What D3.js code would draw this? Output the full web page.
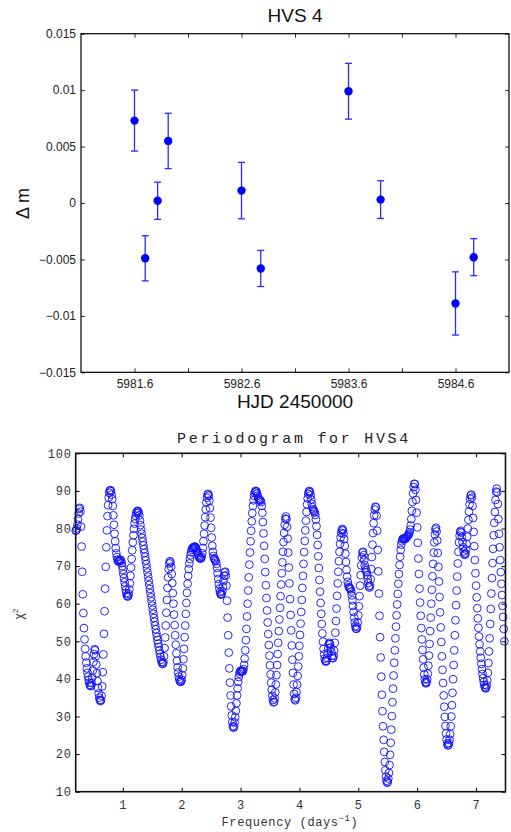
<!DOCTYPE html>
<html>
<head>
<meta charset="utf-8">
<script src="https://cdn.jsdelivr.net/npm/d3@7/dist/d3.min.js"></script>
<style>
body { margin: 0; background: #fff; }
</style>
</head>
<body>
<script>
// ---- light curve (top panel) ----
var hjd = [5981.60, 5981.70, 5981.816, 5981.915, 5982.60, 5982.78, 5983.60, 5983.90, 5984.60, 5984.77];
var dmag = [0.0073, -0.0049, 0.0002, 0.0055, 0.0011, -0.0058, 0.0099, 0.0003, -0.0089, -0.0048];
var dmagErr = [0.0027, 0.0020, 0.00165, 0.00245, 0.0025, 0.0016, 0.00247, 0.00167, 0.0028, 0.00164];
var hjdTicks = [5981.6, 5982.1, 5982.6, 5983.1, 5983.6, 5984.1, 5984.6];
var hjdLabels = ["5981.6", "", "5982.6", "", "5983.6", "", "5984.6"];
var dmagTicks = [-0.015, -0.01, -0.005, 0, 0.005, 0.01, 0.015];
var dmagLabels = ["\u22120.015", "\u22120.01", "\u22120.005", "0", "0.005", "0.01", "0.015"];

// ---- periodogram (bottom panel) ----
var freqStart = 0.20, freqStep = 0.01;
var chi2 = [
  79.4, 79.5, 80.0, 81.0, 82.5, 84.0, 85.2, 85.5, 84.5, 80.5,
  75.2, 68.5, 62.5, 57.5, 53.5, 50.5, 48.0, 46.0, 44.3, 42.8,
  41.6, 40.6, 39.7, 39.0, 38.4, 38.1, 38.2, 38.9, 40.3, 42.2,
  44.5, 46.6, 47.9, 47.6, 46.0, 43.8, 41.5, 39.4, 37.6, 36.1,
  35.0, 34.4, 34.1, 34.3, 35.5, 38.0, 41.8, 46.5, 52.0, 58.0,
  64.0, 69.8, 75.0, 79.5, 83.3, 86.2, 88.2, 89.5, 90.1, 90.2,
  89.9, 89.0, 87.8, 86.0, 83.5, 81.0, 78.6, 76.6, 74.8, 73.4,
  72.4, 71.7, 71.3, 71.2, 71.3, 71.6, 71.7, 71.4, 70.8, 70.0,
  69.0, 67.9, 66.8, 65.7, 64.6, 63.6, 62.8, 62.2, 61.9, 62.0,
  62.6, 63.8, 65.4, 67.4, 69.6, 71.9, 74.2, 76.3, 78.2, 79.9,
  81.3, 82.5, 83.4, 84.1, 84.5, 84.7, 84.6, 84.2, 83.5, 82.2,
  80.9, 79.7, 78.6, 77.5, 76.5, 75.5, 74.5, 73.5, 72.5, 71.5,
  70.5, 69.4, 68.3, 67.2, 66.1, 65.0, 63.9, 62.8, 61.7, 60.6,
  59.5, 58.4, 57.3, 56.2, 55.2, 54.2, 53.2, 52.2, 51.2, 50.3,
  49.4, 48.5, 47.6, 46.7, 45.9, 45.1, 44.5, 44.1, 44.0, 44.4,
  46.0, 48.2, 51.0, 54.2, 57.6, 61.0, 64.2, 67.0, 69.2, 70.7,
  71.3, 71.0, 69.8, 67.9, 65.5, 62.8, 60.0, 57.1, 54.3, 51.6,
  49.1, 46.8, 44.8, 43.1, 41.7, 40.6, 39.9, 39.4, 39.2, 39.3,
  39.8, 41.0, 42.8, 45.2, 48.0, 51.1, 54.2, 57.3, 60.2, 62.9,
  65.3, 67.4, 69.2, 70.7, 71.9, 72.9, 73.7, 74.3, 74.7, 74.9,
  74.9, 75.1, 75.2, 75.1, 74.9, 74.5, 74.0, 73.5, 73.0, 72.6,
  72.3, 72.1, 72.0, 72.1, 72.5, 73.4, 74.8, 76.6, 78.6, 80.8,
  83.0, 85.1, 86.9, 88.2, 89.0, 89.2, 88.7, 87.4, 85.4, 82.9,
  80.2, 77.6, 75.4, 73.8, 72.7, 72.1, 71.8, 71.6, 71.3, 70.6,
  69.5, 68.1, 66.6, 65.2, 64.0, 63.1, 62.6, 62.4, 62.6, 63.3,
  64.5, 66.0, 67.4, 68.3, 68.5, 67.5, 64.8, 60.8, 56.3, 51.6,
  47.0, 42.8, 39.0, 35.6, 32.7, 30.3, 28.5, 27.4, 27.0, 27.3,
  28.4, 29.8, 31.5, 33.5, 35.6, 37.5, 39.2, 40.5, 41.4, 41.9,
  42.1, 42.2, 42.1, 42.0, 42.1, 42.6, 43.7, 45.4, 47.6, 50.3,
  53.3, 56.6, 60.0, 63.5, 67.0, 70.4, 73.6, 76.6, 79.4, 81.9,
  84.1, 86.0, 87.5, 88.7, 89.5, 89.9, 90.0, 89.8, 89.3, 88.7,
  88.2, 87.8, 87.6, 87.5, 87.4, 87.0, 86.0, 84.2, 81.7, 78.7,
  75.4, 71.9, 68.4, 64.9, 61.5, 58.2, 55.0, 51.9, 49.0, 46.2,
  43.6, 41.2, 39.0, 37.1, 35.5, 34.4, 33.8, 33.9, 34.8, 36.4,
  38.5, 41.0, 43.7, 46.6, 49.6, 52.7, 55.8, 58.9, 62.0, 65.1,
  68.1, 71.0, 73.8, 76.4, 78.8, 81.0, 82.6, 83.2, 82.5, 80.4,
  77.3, 73.6, 69.6, 65.4, 61.2, 57.0, 52.9, 48.9, 45.1, 41.6,
  38.5, 36.0, 34.6, 34.3, 35.0, 36.5, 38.5, 40.8, 43.3, 46.0,
  48.8, 51.7, 54.7, 57.8, 61.0, 64.2, 67.4, 70.6, 73.7, 76.7,
  79.5, 82.1, 84.4, 86.4, 88.0, 89.2, 89.8, 90.0, 89.6, 88.8,
  87.7, 86.6, 85.7, 85.1, 84.8, 84.6, 84.3, 83.6, 82.4, 80.6,
  78.3, 75.6, 72.6, 69.5, 66.3, 63.2, 60.2, 57.3, 54.6, 52.1,
  49.9, 48.0, 46.5, 45.4, 44.8, 44.6, 44.8, 45.6, 46.8, 48.2,
  49.3, 49.6, 49.2, 48.3, 47.2, 46.2, 45.6, 45.5, 46.1, 47.5,
  49.6, 52.3, 55.4, 58.7, 62.1, 65.4, 68.5, 71.3, 73.8, 75.9,
  77.6, 78.8, 79.6, 79.9, 79.5, 78.6, 77.2, 75.4, 73.3, 71.1,
  69.0, 67.2, 65.8, 64.9, 64.4, 64.2, 64.1, 63.8, 63.2, 62.2,
  60.9, 59.4, 57.8, 56.3, 55.0, 54.0, 53.4, 53.3, 53.8, 55.0,
  56.9, 59.3, 62.0, 64.8, 67.6, 70.2, 72.3, 73.6, 73.8, 72.9,
  71.5, 70.2, 69.4, 68.9, 68.4, 67.6, 66.6, 65.5, 64.6, 64.3,
  64.8, 66.5, 69.2, 72.4, 75.7, 78.8, 81.4, 83.5, 85.0, 85.8,
  85.6, 83.4, 79.4, 74.3, 68.6, 62.7, 56.8, 51.1, 45.7, 40.6,
  35.8, 31.4, 27.4, 23.8, 20.6, 17.9, 15.7, 14.0, 12.9, 12.4,
  12.6, 13.5, 15.0, 17.1, 19.8, 23.0, 26.5, 30.1, 33.8, 37.4,
  40.9, 44.3, 47.6, 50.8, 53.9, 56.9, 59.8, 62.6, 65.3, 67.9,
  70.3, 72.5, 74.3, 75.7, 76.6, 77.1, 77.3, 77.3, 77.2, 77.2,
  77.3, 77.5, 77.7, 77.9, 78.1, 78.3, 78.6, 79.0, 79.7, 80.8,
  82.5, 84.7, 87.1, 89.3, 91.0, 91.9, 91.8, 90.3, 87.6, 84.2,
  80.3, 76.2, 72.0, 67.9, 64.0, 60.3, 56.8, 53.5, 50.5, 47.7,
  45.2, 43.0, 41.2, 39.9, 39.1, 38.8, 39.1, 39.9, 41.4, 43.5,
  46.2, 49.3, 52.7, 56.3, 60.0, 63.7, 67.3, 70.6, 73.6, 76.3,
  78.4, 79.8, 80.2, 79.2, 76.8, 73.5, 69.8, 65.9, 61.8, 57.7,
  53.7, 49.8, 46.0, 42.4, 38.9, 35.6, 32.6, 29.9, 27.5, 25.5,
  23.9, 22.8, 22.3, 22.4, 22.9, 23.8, 25.3, 27.4, 30.0, 33.0,
  36.3, 39.9, 43.7, 47.6, 51.6, 55.6, 59.6, 63.5, 67.2, 70.7,
  73.8, 76.3, 78.1, 79.1, 79.4, 78.9, 77.8, 76.4, 75.0, 73.9,
  73.2, 73.0, 73.4, 74.4, 75.9, 77.8, 80.0, 82.3, 84.5, 86.4,
  87.9, 88.8, 89.0, 88.2, 86.0, 82.8, 79.1, 75.3, 71.6, 68.1,
  64.8, 61.7, 58.8, 56.1, 53.6, 51.3, 49.2, 47.3, 45.6, 44.0,
  42.6, 41.3, 40.2, 39.2, 38.4, 37.8, 37.5, 37.6, 38.3, 39.6,
  41.6, 44.2, 47.3, 50.8, 54.6, 58.6, 62.7, 66.8, 70.8, 74.6,
  78.2, 81.5, 84.4, 87.6, 89.8, 90.6, 89.6, 86.5, 82.5, 78.6,
  75.0, 71.6, 68.4, 65.3, 62.3, 59.4, 56.5, 53.3, 50.0
];
var freqTicks = [1, 2, 3, 4, 5, 6, 7];
var chiTicks = [10, 20, 30, 40, 50, 60, 70, 80, 90, 100];

var w = 511, h = 832;
var svg = d3.select("body").append("svg")
    .attr("width", w)
    .attr("height", h)
    .style("background", "#fff");

var sans = "'Liberation Sans', Arial, Helvetica, sans-serif";
var mono = "'Liberation Mono', 'Courier New', Courier, monospace";

//---------------- top panel ----------------
var x1 = d3.scaleLinear().domain([5981.1, 5985.1]).range([81, 509]);
var y1 = d3.scaleLinear().domain([-0.015, 0.015]).range([372.3, 33.7]);

var upper = svg.append("g").attr("class", "lightcurve");

//inward ticks on all four sides
upper.append("g")
    .attr("transform", "translate(0," + y1.range()[0] + ")")
    .call(d3.axisBottom(x1).tickValues(hjdTicks).tickSize(-4).tickPadding(7)
        .tickFormat(function(d, i){ return hjdLabels[i]; }));
upper.append("g")
    .attr("transform", "translate(0," + y1.range()[1] + ")")
    .call(d3.axisTop(x1).tickValues(hjdTicks).tickSize(-4).tickFormat(""));
upper.append("g")
    .attr("transform", "translate(" + x1.range()[0] + ",0)")
    .call(d3.axisLeft(y1).tickValues(dmagTicks).tickSize(-4).tickPadding(5)
        .tickFormat(function(d, i){ return dmagLabels[i]; }));
upper.append("g")
    .attr("transform", "translate(" + x1.range()[1] + ",0)")
    .call(d3.axisRight(y1).tickValues(dmagTicks).tickSize(-4).tickFormat(""));

upper.selectAll(".domain").remove();
upper.selectAll(".tick line").attr("stroke", "#000").attr("stroke-width", 0.8);
upper.selectAll(".tick text").style("font-family", sans).style("font-size", "12px").attr("fill", "#222");

upper.append("rect")
    .attr("x", x1.range()[0]).attr("y", y1.range()[1])
    .attr("width", x1.range()[1] - x1.range()[0])
    .attr("height", y1.range()[0] - y1.range()[1])
    .attr("fill", "none").attr("stroke", "#000").attr("stroke-width", 1.2);

//error bars
var pts = hjd.map(function(d, i){ return {t: d, m: dmag[i], e: dmagErr[i]}; });
var bars = upper.selectAll(".ebar").data(pts).enter().append("g").attr("class", "ebar")
    .attr("stroke", "#2a2aff").attr("stroke-width", 1.3);
bars.append("line")
    .attr("x1", function(d){ return x1(d.t); })
    .attr("x2", function(d){ return x1(d.t); })
    .attr("y1", function(d){ return y1(d.m + d.e); })
    .attr("y2", function(d){ return y1(d.m - d.e); });
bars.append("line")
    .attr("x1", function(d){ return x1(d.t) - 3.5; })
    .attr("x2", function(d){ return x1(d.t) + 3.5; })
    .attr("y1", function(d){ return y1(d.m + d.e); })
    .attr("y2", function(d){ return y1(d.m + d.e); });
bars.append("line")
    .attr("x1", function(d){ return x1(d.t) - 3.5; })
    .attr("x2", function(d){ return x1(d.t) + 3.5; })
    .attr("y1", function(d){ return y1(d.m - d.e); })
    .attr("y2", function(d){ return y1(d.m - d.e); });

upper.selectAll(".dot").data(pts).enter().append("circle")
    .attr("class", "dot")
    .attr("cx", function(d){ return x1(d.t); })
    .attr("cy", function(d){ return y1(d.m); })
    .attr("r", 4.2)
    .attr("fill", "#0000ff");

upper.append("text")
    .attr("x", 295).attr("y", 21.5)
    .attr("text-anchor", "middle")
    .style("font-family", sans).style("font-size", "19px")
    .attr("fill", "#111")
    .text("HVS 4");

upper.append("text")
    .attr("x", 295).attr("y", 408)
    .attr("text-anchor", "middle")
    .style("font-family", sans).style("font-size", "19px")
    .attr("fill", "#111")
    .text("HJD 2450000");

upper.append("text")
    .attr("transform", "translate(28.5,203.5) rotate(-90)")
    .attr("text-anchor", "middle")
    .style("font-family", sans).style("font-size", "18px")
    .attr("fill", "#111")
    .text("\u0394 m");

//---------------- bottom panel ----------------
var x2 = d3.scaleLinear().domain([0.2, 7.5]).range([75.7, 505.5]);
var y2 = d3.scaleLinear().domain([10, 100]).range([791.7, 453.3]);

var lower = svg.append("g").attr("class", "periodogram");

lower.append("g")
    .attr("transform", "translate(0," + y2.range()[0] + ")")
    .call(d3.axisBottom(x2).tickValues(freqTicks).tickSize(-4).tickPadding(9).tickFormat(d3.format("d")));
lower.append("g")
    .attr("transform", "translate(0," + y2.range()[1] + ")")
    .call(d3.axisTop(x2).tickValues(freqTicks).tickSize(-4).tickFormat(""));
lower.append("g")
    .attr("transform", "translate(" + x2.range()[0] + ",0)")
    .call(d3.axisLeft(y2).tickValues(chiTicks).tickSize(-4).tickPadding(4).tickFormat(d3.format("d")));
lower.append("g")
    .attr("transform", "translate(" + x2.range()[1] + ",0)")
    .call(d3.axisRight(y2).tickValues(chiTicks).tickSize(-4).tickFormat(""));

lower.selectAll(".domain").remove();
lower.selectAll(".tick line").attr("stroke", "#000").attr("stroke-width", 1);
lower.selectAll(".tick text")
    .style("font-family", mono).style("font-size", "12px")
    .style("letter-spacing", "0.8px")
    .attr("fill", "#333");

var periodPts = chi2.map(function(v, i){ return {f: freqStart + i * freqStep, c: v}; });
lower.selectAll(".pt").data(periodPts).enter().append("circle")
    .attr("class", "pt")
    .attr("cx", function(d){ return x2(d.f); })
    .attr("cy", function(d){ return y2(d.c); })
    .attr("r", 3.9)
    .attr("fill", "none")
    .attr("stroke", "#1010ff")
    .attr("stroke-width", 0.9);

lower.append("rect")
    .attr("x", x2.range()[0]).attr("y", y2.range()[1])
    .attr("width", x2.range()[1] - x2.range()[0])
    .attr("height", y2.range()[0] - y2.range()[1])
    .attr("fill", "none").attr("stroke", "#111").attr("stroke-width", 1.6);

lower.append("text")
    .attr("x", 294).attr("y", 443)
    .attr("text-anchor", "middle")
    .style("font-family", mono).style("font-size", "15px")
    .style("letter-spacing", "2.7px")
    .attr("fill", "#222")
    .text("Periodogram for HVS4");

var xl = lower.append("text")
    .attr("x", 290).attr("y", 826)
    .attr("text-anchor", "middle")
    .style("font-family", mono).style("font-size", "12px")
    .style("letter-spacing", "0.6px")
    .attr("fill", "#333");
xl.append("tspan").text("Frequency (days");
xl.append("tspan").attr("dy", -5).style("font-size", "9px").text("\u22121");
xl.append("tspan").attr("dy", 5).text(")");

var yl = lower.append("text")
    .attr("transform", "translate(23,614) rotate(-90)")
    .attr("text-anchor", "middle")
    .style("font-family", sans).style("font-size", "12px")
    .attr("fill", "#333");
yl.append("tspan").text("\u03c7");
yl.append("tspan").attr("dy", -5).style("font-size", "8px").text("2");
</script>
</body>
</html>
